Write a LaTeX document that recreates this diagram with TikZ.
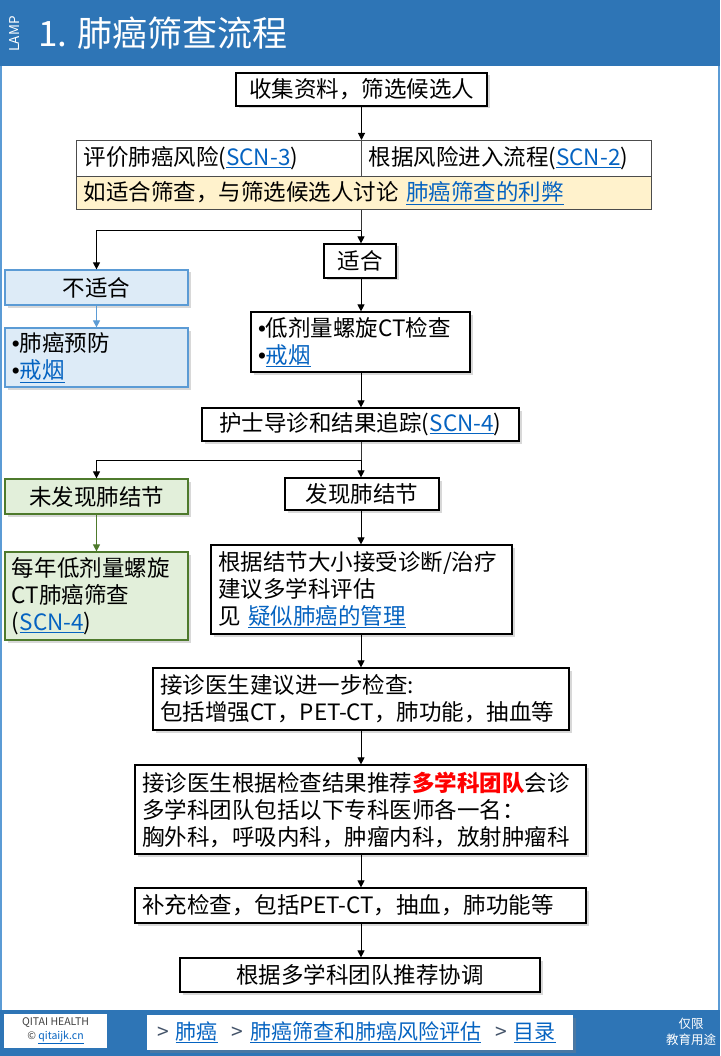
\documentclass[tikz,border=0pt]{standalone}
\usepackage{fontspec}
\setmainfont{Noto Sans CJK SC}
\newfontfamily\latinf{Liberation Sans}
\usetikzlibrary{arrows.meta,shadows,calc}
\definecolor{hdr}{HTML}{2E75B6}
\definecolor{lb}{HTML}{5B9BD5}
\definecolor{lbfill}{HTML}{DDEBF7}
\definecolor{gfill}{HTML}{E2EFDA}
\definecolor{gdraw}{HTML}{4E7A2C}
\definecolor{beige}{HTML}{FFF2CC}
\definecolor{linkc}{HTML}{0563C1}
\definecolor{navgrey}{HTML}{44546A}
\newcommand{\lnk}[1]{\textcolor{linkc}{\underline{#1}}}
\newcommand{\fsmain}{\fontsize{22.5}{27}\selectfont}
\newcommand{\bul}{{\latinf •}}
\tikzset{
  box/.style={draw=black, line width=1.2pt, fill=white, inner sep=0pt,
    font=\fsmain, drop shadow={shadow xshift=2.5pt,shadow yshift=-2.5pt,opacity=0.3}},
  lbox/.style={box, align=left, inner xsep=7pt},
  cell/.style={draw=black!70, line width=1.2pt, inner sep=0pt, font=\fsmain, align=left, anchor=north west},
  bluebox/.style={box, draw=lb, fill=lbfill},
  greenbox/.style={box, draw=gdraw, fill=gfill},
  arr/.style={draw=black, line width=1pt, -{Triangle[length=7pt,width=7pt]}},
  ln/.style={draw=black!80, line width=1pt},
}
\begin{document}
\begin{tikzpicture}[x=1pt,y=-1pt]
\useasboundingbox (0,0) rectangle (720,1056);
% page
\fill[white] (0,0) rectangle (720,1056);
\draw[lb, line width=2pt] (1,0) -- (1,1056) (719,0) -- (719,1056);
% header
\fill[hdr] (0,0) rectangle (720,66);
\node[rotate=90, text=white, font=\fontsize{13.5}{14}\selectfont, inner sep=0pt] (lamp) at (15,34) {LAMP};
\node[anchor=west, text=white, font=\fontsize{35}{40}\selectfont, inner sep=0pt] (title) at (38,33) {1. 肺癌筛查流程};
% footer
\fill[hdr] (0,1010) rectangle (720,1056);
\node[fill=white, minimum width=103pt, minimum height=34pt, inner sep=0pt, align=center,
  font=\fontsize{10.5}{14}\selectfont, text=black!75] (brand) at (55.5,1031) {QITAI HEALTH\\© \lnk{qitaijk.cn}};
\node[fill=white, minimum width=426pt, minimum height=35pt, inner sep=0pt, inner xsep=10pt,
  text width=406pt, align=left, font=\fontsize{21}{25}\selectfont,
  drop shadow={shadow xshift=2.5pt,shadow yshift=-2.5pt,opacity=0.35}] (nav) at (360,1032.5)
  {\mbox{\textcolor{navgrey}{>} \lnk{肺癌} \ \textcolor{navgrey}{>} \lnk{肺癌筛查和肺癌风险评估} \ \textcolor{navgrey}{>} \lnk{目录}}};
\node[text=white, align=center, font=\fontsize{12.5}{16}\selectfont, inner sep=0pt] (edu) at (691,1032) {仅限\\教育用途};

% flow
\node[box, minimum width=251pt, minimum height=33pt] (b1) at (361.5,89.5) {收集资料，筛选候选人};

\node[cell, fill=white, minimum width=285pt, minimum height=36pt, text width=278pt, inner xsep=7pt] (t1) at (76,140) {评价肺癌风险(\lnk{SCN-3})};
\node[cell, fill=white, minimum width=283pt, minimum height=36pt, text width=276pt, inner xsep=7pt] (t2) at (361,140) {根据风险进入流程(\lnk{SCN-2})};
\node[cell, fill=beige, minimum width=568pt, minimum height=33pt, text width=561pt, inner xsep=7pt] (t3) at (76,176) {如适合筛查，与筛选候选人讨论 \lnk{肺癌筛查的利弊}};

\node[box, minimum width=72pt, minimum height=34pt] (fit) at (360,261) {适合};
\node[bluebox, minimum width=183pt, minimum height=35pt] (ns) at (96.5,287.5) {不适合};
\node[bluebox, align=left, inner xsep=7pt, text width=169pt, minimum height=59pt] (prev) at (96.5,357.5) {\bul 肺癌预防\\\bul\lnk{戒烟}};
\node[lbox, text width=205pt, minimum height=60pt] (ldct) at (360.5,342) {\bul 低剂量螺旋CT检查\\\bul\lnk{戒烟}};
\node[box, minimum width=317pt, minimum height=33pt] (nurse) at (360.5,424.5) {护士导诊和结果追踪(\lnk{SCN-4})};
\node[greenbox, minimum width=183pt, minimum height=35pt] (nonod) at (96.5,496.5) {未发现肺结节};
\node[box, minimum width=154pt, minimum height=32pt] (nod) at (362,494) {发现肺结节};
\node[greenbox, align=left, inner xsep=7pt, text width=169pt, minimum height=88pt] (annual) at (96.5,596) {每年低剂量螺旋\\CT肺癌筛查\\(\lnk{SCN-4})};
\node[lbox, text width=287pt, minimum height=89pt] (nodbox) at (361.5,589.5) {根据结节大小接受诊断/治疗\\建议多学科评估\\见 \lnk{疑似肺癌的管理}};
\node[lbox, text width=402pt, minimum height=62pt] (exam) at (361,699) {接诊医生建议进一步检查:\\包括增强CT，PET-CT，肺功能，抽血等};
\node[lbox, text width=437pt, minimum height=89pt] (mdt) at (360.5,809.5) {接诊医生根据检查结果推荐\textcolor{red}{\bfseries 多学科团队}会诊\\多学科团队包括以下专科医师各一名：\\胸外科，呼吸内科，肿瘤内科，放射肿瘤科};
\node[lbox, text width=437pt, minimum height=35pt] (supp) at (360.5,905.5) {补充检查，包括PET-CT，抽血，肺功能等};
\node[box, minimum width=360pt, minimum height=34pt] (coord) at (360,975) {根据多学科团队推荐协调};

% connectors
\draw[arr] (b1.south) -- (b1.south |- t2.north);
\coordinate (br1) at (361,231);
\draw[ln] (t3.south -| br1) -- (br1);
\draw[arr] (br1) -- (fit.north -| br1);
\draw[arr] (br1) -| (ns.north);
\draw[arr, draw=lb] (ns.south) -- (prev.north);
\draw[arr] (fit.south -| br1) -- (ldct.north -| br1);
\draw[arr] (ldct.south -| br1) -- (nurse.north -| br1);
\coordinate (br2) at (361,460);
\draw[ln] (nurse.south -| br2) -- (br2);
\draw[arr] (br2) -- (nod.north -| br2);
\draw[arr] (br2) -| (nonod.north);
\draw[arr, draw=gdraw] (nonod.south) -- (annual.north);
\draw[arr] (nod.south -| br2) -- (nodbox.north -| br2);
\draw[arr] (nodbox.south -| br2) -- (exam.north -| br2);
\draw[arr] (exam.south -| br2) -- (mdt.north -| br2);
\draw[arr] (mdt.south -| br2) -- (supp.north -| br2);
\draw[arr] (supp.south -| br2) -- (coord.north -| br2);
\end{tikzpicture}
\end{document}
